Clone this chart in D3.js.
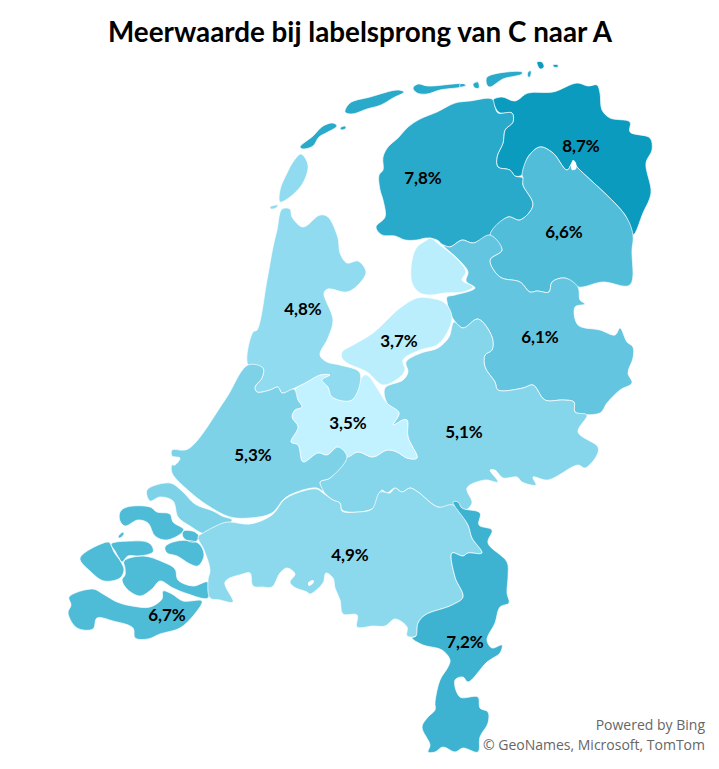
<!DOCTYPE html>
<html>
<head>
<meta charset="utf-8">
<title>Meerwaarde bij labelsprong</title>
<script src="https://cdn.jsdelivr.net/npm/d3@7"></script>
<style>
	html, body { margin: 0; padding: 0; background: #fff; }
	svg { display: block; }
</style>
</head>
<body>
<div class="chart"></div>
<script>
;(function(window, document, undefined) {

	'use strict';

	var titleText = 'Meerwaarde bij labelsprong van C naar A';
	var creditLines = ['Powered by Bing', '\u00a9 GeoNames, Microsoft, TomTom'];

	var provinces = ['Groningen', 'Friesland', 'Drenthe', 'Overijssel', 'Flevoland', 'Gelderland',
		'Utrecht', 'Noord-Holland', 'Zuid-Holland', 'Zeeland', 'Noord-Brabant', 'Limburg'];
	var values = [8.7, 7.8, 6.6, 6.1, 3.7, 5.1, 3.5, 4.8, 5.3, 6.7, 4.9, 7.2];

	// outlines, one list of rings per province
	var groningenRings = [
		[[502,97],[515,101],[528,93],[553,92],[577,83],[588,86],[597,85],[600,93],[602,110],[610,118],[630,122],[630,132],[650,138],[652,150],[646,163],[651,193],[643,213],[633,235],[625,215],[577,167],[573,162],[567,170],[553,153],[540,147],[528,157],[522,175],[515,176],[510,170],[498,167],[497,157],[503,143],[505,130],[513,122],[512,113],[500,113],[495,107],[493,100]],
		[[537,62],[542,62],[544,67],[540,69]],
		[[553,65],[558,65],[558,67],[554,67]]
	];
	var frieslandRings = [
		[[470,101],[455,103],[437,112],[420,119],[408,127],[398,138],[388,147],[383,157],[383,170],[379,175],[380,190],[383,200],[385,217],[376,227],[382,235],[395,236],[405,240],[417,240],[427,238],[437,240],[443,245],[450,247],[462,240],[473,243],[490,235],[508,217],[520,220],[533,205],[523,185],[523,178],[515,176],[510,170],[498,167],[497,157],[503,143],[505,130],[513,122],[512,113],[498,113],[495,107],[492,99]],
		[[300,147],[313,136],[323,126],[333,123],[337,126],[326,133],[319,137],[313,146],[303,149]],
		[[345,112],[350,103],[370,97],[398,90],[404,92],[393,98],[381,105],[367,109],[352,114]],
		[[413,88],[418,84],[428,86],[465,84],[465,86],[440,90],[427,94],[417,93]],
		[[340,128],[345,126],[346,128],[342,130]],
		[[487,77],[522,72],[522,74],[503,79],[490,87],[487,85]],
		[[473,84],[478,82],[479,88],[475,88]],
		[[528,72],[531,71],[530,77],[528,77]],
		[[460,84],[465,84],[466,86],[460,87]]
	];
	var drentheRings = [
		[[540,147],[553,153],[567,170],[573,162],[577,167],[625,215],[633,235],[632,250],[630,285],[603,282],[578,287],[565,278],[552,282],[549,292],[537,291],[530,292],[520,282],[500,277],[490,260],[502,250],[490,235],[508,217],[520,220],[533,205],[523,185],[523,178],[522,175],[528,157]]
	];
	var overijsselRings = [
		[[443,245],[450,247],[462,240],[473,243],[490,235],[502,250],[490,260],[500,277],[520,282],[530,292],[537,291],[549,292],[552,282],[565,278],[578,287],[580,300],[585,304],[575,307],[578,325],[600,330],[615,335],[620,328],[627,342],[633,347],[633,358],[628,373],[632,383],[620,390],[607,403],[600,413],[575,412],[574,402],[563,400],[545,400],[533,385],[523,388],[498,390],[495,382],[485,367],[485,355],[492,350],[492,337],[478,319],[463,328],[452,317],[447,302],[447,297],[455,295],[475,288],[466,281],[468,272],[459,260]]
	];
	var flevolandRings = [
		[[430,238],[440,245],[458,260],[466,272],[462,280],[473,287],[463,292],[445,293],[430,295],[420,293],[412,283],[412,260],[417,247],[427,240]],
		[[417,298],[430,298],[445,303],[452,317],[447,333],[437,345],[420,350],[403,360],[405,370],[400,377],[383,385],[367,372],[347,363],[342,358],[342,352],[353,345],[373,333],[400,308]]
	];
	var gelderlandRings = [
		[[385,388],[403,380],[408,372],[406,362],[421,353],[438,348],[449,337],[454,322],[463,328],[478,319],[492,337],[492,350],[485,355],[485,367],[495,382],[498,390],[523,388],[533,385],[545,400],[563,400],[574,402],[575,412],[587,415],[578,432],[598,447],[597,455],[585,468],[578,465],[548,480],[533,477],[536,485],[522,482],[517,477],[503,478],[495,470],[490,470],[498,482],[485,480],[467,488],[472,503],[465,510],[455,502],[455,505],[438,507],[418,492],[410,488],[402,492],[395,488],[387,493],[382,490],[377,500],[375,507],[360,512],[342,510],[340,503],[333,500],[323,491],[320,482],[330,478],[347,457],[358,452],[373,457],[387,450],[397,452],[407,458],[417,458],[408,437],[407,420],[403,420],[393,425],[399,413],[387,403]]
	];
	var utrechtRings = [
		[[320,375],[330,375],[322,380],[328,387],[332,397],[352,400],[362,377],[367,375],[387,403],[399,413],[393,425],[403,420],[407,420],[408,437],[417,458],[407,458],[397,452],[387,450],[373,457],[358,452],[347,457],[338,447],[327,455],[318,453],[303,462],[298,445],[291,442],[298,427],[292,417],[295,410],[302,407],[298,400],[295,390],[307,382]]
	];
	var noordHollandRings = [
		[[282,209],[290,209],[292,217],[303,227],[320,215],[328,217],[338,238],[340,253],[347,263],[358,261],[366,272],[358,285],[347,292],[328,289],[324,293],[333,320],[328,338],[320,355],[327,362],[340,365],[360,373],[352,400],[332,397],[328,387],[322,380],[330,375],[320,375],[307,382],[295,388],[293,389],[282,393],[278,387],[270,390],[257,392],[255,387],[262,378],[263,368],[248,365],[253,332],[257,330],[267,280],[273,247],[277,230]],
		[[301,154],[308,165],[303,183],[290,197],[280,202],[280,190],[287,173],[293,162]],
		[[270,207],[278,205],[276,208],[271,209]]
	];
	var zuidHollandRings = [
		[[248,365],[263,368],[262,378],[255,387],[257,392],[270,390],[278,387],[282,393],[293,389],[295,390],[298,400],[302,407],[295,410],[292,417],[298,427],[291,442],[298,445],[303,462],[318,453],[327,455],[338,447],[347,457],[330,478],[320,482],[323,491],[317,488],[303,490],[285,498],[272,513],[250,518],[230,517],[207,505],[190,492],[172,473],[172,465],[175,465],[180,458],[172,456],[172,450],[188,449],[225,400]],
		[[147,490],[170,483],[182,491],[195,504],[213,511],[222,516],[232,520],[225,527],[215,531],[205,534],[190,526],[178,517],[173,501],[160,497],[150,501]]
	];
	var zeelandRings = [
		[[120,512],[127,507],[150,507],[157,512],[170,514],[173,522],[184,530],[167,540],[155,536],[148,523],[138,520],[125,526],[120,521]],
		[[118,537],[123,532],[124,534],[120,538]],
		[[183,531],[195,532],[199,537],[195,542],[188,541],[183,537]],
		[[165,547],[177,541],[198,543],[204,555],[198,566],[190,564],[177,556],[167,553]],
		[[111,544],[132,541],[147,542],[152,546],[153,552],[140,556],[128,556],[122,562],[119,558],[115,551]],
		[[80,558],[107,542],[110,543],[114,552],[121,562],[124,570],[120,578],[104,581],[90,571]],
		[[124,561],[143,556],[163,562],[175,569],[178,580],[193,586],[208,582],[208,598],[188,594],[173,588],[160,581],[152,589],[140,596],[127,589],[122,580],[125,575],[125,568]],
		[[69,597],[93,589],[103,594],[117,602],[132,606],[150,607],[162,599],[163,591],[172,594],[183,601],[202,601],[193,616],[180,628],[160,634],[148,639],[135,638],[133,628],[113,621],[97,618],[93,629],[77,628],[68,613],[71,605]]
	];
	var noordBrabantRings = [
		[[230,522],[250,524],[272,515],[285,499],[303,491],[317,489],[323,493],[333,500],[340,503],[342,511],[358,512],[372,509],[380,492],[390,493],[395,488],[402,492],[410,488],[418,492],[438,507],[453,505],[468,525],[472,538],[482,553],[468,553],[463,556],[452,553],[455,577],[463,597],[452,605],[425,615],[418,623],[416,636],[407,636],[407,627],[395,619],[385,626],[373,626],[357,627],[357,615],[343,614],[340,600],[335,588],[333,578],[326,573],[323,583],[310,594],[307,592],[294,587],[290,582],[295,574],[287,568],[280,573],[272,587],[263,587],[253,586],[250,573],[243,574],[225,582],[233,602],[220,600],[210,598],[208,580],[210,570],[204,550],[198,537],[203,533],[223,523]]
	];
	var limburgRings = [
		[[453,502],[458,502],[462,508],[480,513],[479,525],[492,530],[488,543],[507,562],[508,577],[507,593],[509,603],[500,607],[495,623],[487,640],[492,648],[502,645],[500,653],[487,662],[468,682],[463,677],[455,680],[460,697],[478,697],[480,708],[488,712],[488,723],[480,737],[478,752],[463,748],[455,752],[443,747],[435,752],[428,752],[430,745],[422,727],[428,717],[435,710],[435,702],[440,680],[448,667],[450,660],[442,650],[423,645],[412,638],[416,636],[418,623],[425,615],[452,605],[463,597],[455,577],[452,553],[463,556],[468,553],[482,553],[472,538],[468,525]]
	];
	var outlines = [groningenRings, frieslandRings, drentheRings, overijsselRings, flevolandRings, gelderlandRings,
		utrechtRings, noordHollandRings, zuidHollandRings, zeelandRings, noordBrabantRings, limburgRings];

	// lakes and channels left white inside the provinces
	var waterRings = [
		[[573,160],[576,163],[576,169],[572,170],[571,165]],
		[[308,583],[313,580],[314,582],[309,586]],
		[[328,338],[339,333],[337,337],[329,341]]
	];

	function render() {
		var width = 719;
		var height = 769;

		var svg = d3.select('.chart')
			.append('svg')
			.attr('width', width)
			.attr('height', height);

		var x = d3.scaleLinear().domain([0, 719]).range([0, width]);
		var y = d3.scaleLinear().domain([0, 769]).range([0, height]);
		var ringPath = d3.line()
			.x(function(d) { return x(d[0]); })
			.y(function(d) { return y(d[1]); })
			.curve(d3.curveCatmullRomClosed.alpha(0.5));

		var colour = d3.scaleLinear()
			.domain([d3.min(values), 5, d3.max(values)])
			.range(['#c2f2ff', '#88d7ec', '#0a9bbf']);

		var nl = d3.formatLocale({ decimal: ',', thousands: '.', grouping: [3], currency: ['', ''] });
		var pct = nl.format('.1f');

		svg.append('text')
			.attr('x', 360)
			.attr('y', 42)
			.attr('text-anchor', 'middle')
			.attr('font-family', 'Lato, sans-serif')
			.attr('font-weight', 700)
			.attr('font-size', 27.8)
			.attr('fill', '#000')
			.text(titleText);

		svg.selectAll('path.province')
			.data(provinces)
			.enter()
			.append('path')
			.attr('class', 'province')
			.attr('d', function(d, i) {
				return outlines[i].map(ringPath).join('');
			})
			.attr('fill', function(d, i) { return colour(values[i]); })
			.attr('stroke', '#fff')
			.attr('stroke-width', 0.7)
			.attr('stroke-linejoin', 'round');

		svg.selectAll('path.water')
			.data(waterRings)
			.enter()
			.append('path')
			.attr('class', 'water')
			.attr('d', ringPath)
			.attr('fill', '#fff');

		var labelSpots = [[581,146],[423,178],[564,232],[540,337],[399,341],[464,432],[348,423],[303,309],[253,455],[167,615],[350,555],[465,642]];

		svg.selectAll('text.value')
			.data(provinces)
			.enter()
			.append('text')
			.attr('class', 'value')
			.attr('x', function(d, i) { return x(labelSpots[i][0]); })
			.attr('y', function(d, i) { return y(labelSpots[i][1]); })
			.attr('dy', '0.35em')
			.attr('text-anchor', 'middle')
			.attr('font-family', 'Lato, sans-serif')
			.attr('font-weight', 700)
			.attr('font-size', 17)
			.attr('fill', '#000')
			.text(function(d, i) { return pct(values[i]) + '%'; });

		svg.selectAll('text.credit')
			.data(creditLines)
			.enter()
			.append('text')
			.attr('class', 'credit')
			.attr('x', 705)
			.attr('y', function(d, i) { return 730 + i * 20; })
			.attr('text-anchor', 'end')
			.attr('font-family', '"Open Sans", sans-serif')
			.attr('font-size', 14)
			.attr('fill', '#666')
			.text(function(d) { return d; });
	}

	render();

})(window, document);
</script>
</body>
</html>
